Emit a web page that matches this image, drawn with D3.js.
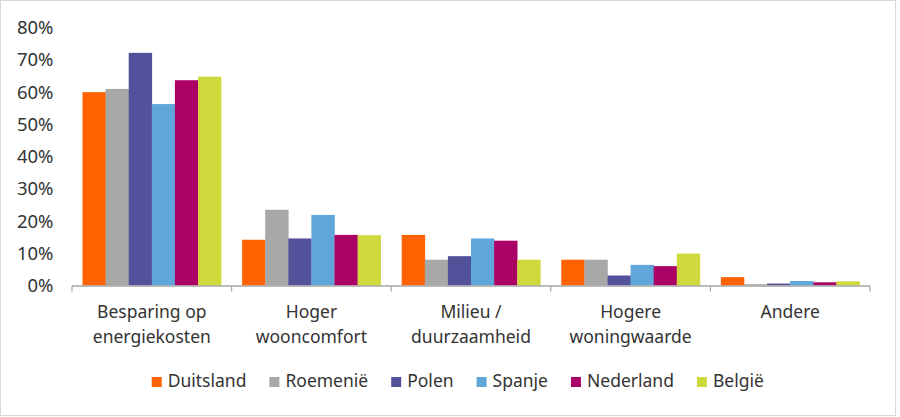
<!DOCTYPE html>
<html><head><meta charset="utf-8">
<script src="https://cdn.jsdelivr.net/npm/d3@7"></script>
<style>body{margin:0;background:#fff}svg{display:block;font-family:"Noto Sans",sans-serif}</style>
</head><body><svg id="c" width="900" height="417"></svg>
<script>
const categories = [["Besparing op","energiekosten"],["Hoger","wooncomfort"],["Milieu /","duurzaamheid"],["Hogere","woningwaarde"],["Andere"]];
const seriesNames = ["Duitsland","Roemenië","Polen","Spanje","Nederland","België"];
const duitsland = [60.0, 14.2, 15.7, 8.0, 2.6];
const roemenie  = [61.0, 23.5, 8.0, 8.0, 0.4];
const polen     = [72.2, 14.6, 9.1, 3.1, 0.6];
const spanje    = [56.3, 21.9, 14.6, 6.4, 1.4];
const nederland = [63.7, 15.7, 13.9, 6.0, 1.0];
const belgie    = [64.8, 15.6, 8.0, 9.9, 1.3];
const yTicks = [0,10,20,30,40,50,60,70,80];
const colors = ["#FF6200","#A8A8A8","#525199","#60A6DA","#AB0066","#D0D93C"];

const seriesValues = [duitsland, roemenie, polen, spanje, nederland, belgie];
const svg = d3.select("#c");
const textColor = "#333333";

svg.append("rect").attr("x",0.5).attr("y",0.5).attr("width",895).attr("height",415)
  .attr("fill","none").attr("stroke","#d9d9d9").attr("stroke-width",1);

const y = d3.scaleLinear().domain([0,80]).range([285.5,27.7]);
const x0 = d3.scaleBand().domain(d3.range(categories.length)).range([72,870]).padding(0);
const x1 = d3.scaleBand().domain(d3.range(seriesNames.length)).range([10.5, x0.bandwidth()-10.5]).padding(0);

// y tick labels
svg.append("g").selectAll("text").data(yTicks).join("text")
  .attr("x",53.5).attr("y",d=>y(d)).attr("dy","0.35em").attr("text-anchor","end")
  .attr("font-size",18.5).attr("fill",textColor).text(d=>d+"%");

// bars
const groups = svg.append("g").selectAll("g").data(categories.map((c,i)=>i)).join("g")
  .attr("transform",i=>`translate(${x0(i)},0)`);
groups.selectAll("rect").data(i=>seriesValues.map((s,j)=>({j,v:s[i]}))).join("rect")
  .attr("x",d=>x1(d.j)).attr("width",x1.bandwidth()+0.3)
  .attr("y",d=>y(d.v)).attr("height",d=>y(0)-y(d.v))
  .attr("fill",d=>colors[d.j]);

// x axis
const axisG = svg.append("g").attr("transform",`translate(0,${y(0)+0.5})`);
axisG.append("line").attr("x1",72).attr("x2",870).attr("stroke","#a6a6a6").attr("stroke-width",1.5);
const bounds = d3.range(categories.length+1).map(i=> i<categories.length ? x0(i) : x0(i-1)+x0.bandwidth());
axisG.selectAll("line.t").data(bounds).join("line").attr("class","t")
  .attr("x1",d=>d).attr("x2",d=>d).attr("y1",0).attr("y2",5.5).attr("stroke","#a6a6a6").attr("stroke-width",1.2);

// category labels
const lab = svg.append("g").selectAll("text").data(categories).join("text")
  .attr("text-anchor","middle").attr("font-size",17.5).attr("fill",textColor)
  .attr("transform",(d,i)=>`translate(${x0(i)+x0.bandwidth()/2},318)`);
lab.selectAll("tspan").data(d=>d).join("tspan").attr("x",0).attr("dy",(d,k)=>k===0?0:24.5).text(d=>d);

// legend
const leg = svg.append("g");
const items = leg.selectAll("g").data(seriesNames).join("g");
items.append("rect").attr("width",10).attr("height",10).attr("y",377).attr("fill",(d,i)=>colors[i]);
items.append("text").attr("x",16).attr("y",387).attr("font-size",17.5).attr("fill",textColor).text(d=>d);
let cx = 151.7;
items.each(function(){
  const g = d3.select(this);
  g.attr("transform",`translate(${cx},0)`);
  const w = g.select("text").node().getComputedTextLength();
  cx += 16 + w + 23;
});
</script></body></html>
